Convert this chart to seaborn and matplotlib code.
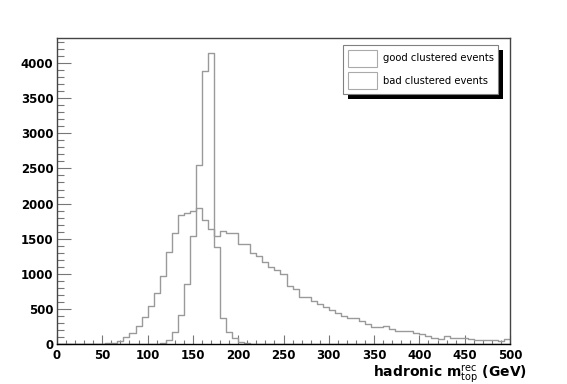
import numpy as np
import matplotlib
matplotlib.use("Agg")
import matplotlib.pyplot as plt
from matplotlib.patches import Patch, Rectangle
from matplotlib.transforms import IdentityTransform
from matplotlib.ticker import MultipleLocator
import seaborn as sns

# 75 bins between 0 and 500 GeV
n_bins = 75
x_range = (0, 500)
bin_edges = np.linspace(x_range[0], x_range[1], n_bins + 1)
bin_centers = 0.5 * (bin_edges[:-1] + bin_edges[1:])

# counts (15 bins per row)
good_counts = [0, 0, 0, 0, 0, 0, 0, 0, 0, 0, 0, 0, 0, 0, 0,
               0, 3, 12, 50, 168, 410, 852, 1545, 2550, 3885, 4150, 1386, 370, 170, 88,
               28, 8, 4, 0, 0, 0, 0, 0, 0, 0, 0, 0, 0, 0, 0,
               0, 0, 0, 0, 0, 0, 0, 0, 0, 0, 0, 0, 0, 0, 0,
               0, 0, 0, 0, 0, 0, 0, 0, 0, 0, 0, 0, 0, 0, 0]
bad_counts = [0, 0, 0, 0, 0, 0, 0, 3, 10, 20,
              47, 100, 163, 260, 385, 535, 731, 962, 1312, 1584,
              1836, 1861, 1899, 1932, 1766, 1633, 1532, 1605, 1580, 1578,
              1420, 1420, 1292, 1253, 1163, 1092, 1050, 1003, 820, 780,
              670, 665, 612, 565, 520, 480, 435, 398, 372, 368,
              322, 285, 245, 242, 252, 209, 190, 180, 178, 161,
              142, 115, 90, 66, 114, 88, 86, 84, 72, 62,
              55, 55, 54, 45, 72]
legend_labels = ["good clustered events", "bad clustered events"]

sns.set_style("white")
plt.rcParams["font.family"] = "DejaVu Sans"
plt.rcParams["text.color"] = "black"
plt.rcParams["axes.labelcolor"] = "black"

line_col = "#9a9a9a"

fig = plt.figure(figsize=(5.67, 3.84), dpi=100)
ax = fig.add_axes([0.1005, 0.1042, 0.799, 0.7968])

for counts in [good_counts, bad_counts]:
    sns.histplot(x=bin_centers, weights=counts, bins=n_bins, binrange=x_range,
                 element="step", fill=False, color=line_col, linewidth=1.0, ax=ax)

ax.set_xlim(*x_range)
ax.set_ylim(0, max(good_counts) * 1.05)
ax.set_ylabel("")
ax.set_xlabel(r"hadronic m$_{\mathrm{top}}^{\mathrm{rec}}$ (GeV)", fontsize=10,
              fontweight="bold", ha="right", color="black")
ax.xaxis.set_label_coords(1.0375, -0.064)

ax.xaxis.set_major_locator(MultipleLocator(50))
ax.xaxis.set_minor_locator(MultipleLocator(10))
ax.yaxis.set_major_locator(MultipleLocator(500))
ax.yaxis.set_minor_locator(MultipleLocator(100))

ax.tick_params(axis="both", which="both", direction="in", color="#777777", width=0.8,
               labelcolor="black", top=False, right=False, bottom=True, left=True)
ax.tick_params(axis="x", which="major", length=6.5, pad=3.5, labelsize=8.5)
ax.tick_params(axis="x", which="minor", length=3.2)
ax.tick_params(axis="y", which="major", length=9.8, pad=2.5, labelsize=8.5)
ax.tick_params(axis="y", which="minor", length=4.7)
for lab in ax.get_xticklabels() + ax.get_yticklabels():
    lab.set_fontweight("bold")

for side in ["top", "right", "left"]:
    ax.spines[side].set_color("#444444")
    ax.spines[side].set_linewidth(1.0)
ax.spines["bottom"].set_color("black")
ax.spines["bottom"].set_linewidth(1.0)

handles = [Patch(facecolor="white", edgecolor="#aaaaaa", linewidth=0.8) for _ in legend_labels]
leg = ax.legend(handles, legend_labels, loc="upper right", bbox_to_anchor=(0.9735, 0.977),
                borderaxespad=0, fontsize=7.2, handlelength=2.9, handleheight=2.3,
                handletextpad=0.6, labelspacing=0.5, borderpad=0.45,
                fancybox=False, framealpha=1, edgecolor="#808080")
leg.get_frame().set_linewidth(0.8)

# black drop shadow behind the legend box
fig.canvas.draw()
bb = leg.get_window_extent()
ax.add_patch(Rectangle((bb.x0 + 5, bb.y0 - 5), bb.width, bb.height, facecolor="black",
                       edgecolor="none", transform=IdentityTransform(), zorder=4.9,
                       clip_on=False))

fig.savefig("out.png", dpi=100)
